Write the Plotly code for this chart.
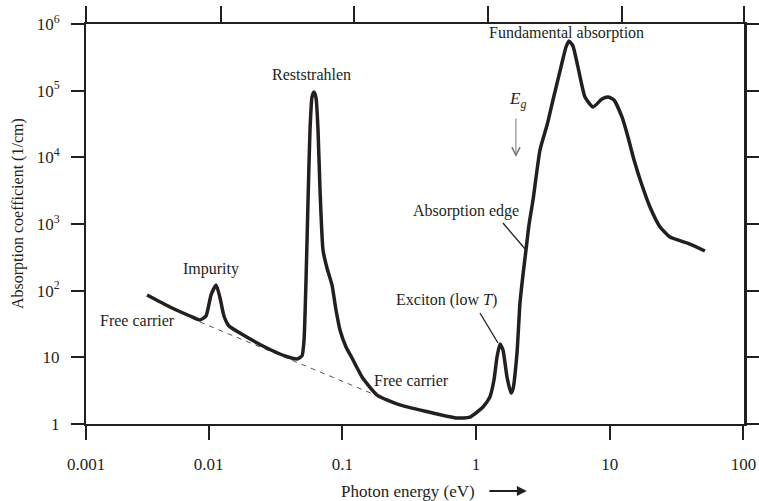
import math
import plotly.graph_objects as go

# Absorption spectrum of a typical semiconductor (schematic)
photon_energy_ev = [
    0.00347, 0.00515, 0.00727, 0.00863, 0.00958, 0.01044, 0.0114, 0.0122, 0.01305, 0.01423,
    0.01875, 0.0264, 0.0373, 0.0459, 0.0500, 0.0518, 0.0536, 0.0555, 0.0574, 0.0594,
    0.0615, 0.0637, 0.0659, 0.0682, 0.0718, 0.0769, 0.0838, 0.0898, 0.0962, 0.1067,
    0.1183, 0.1406, 0.182, 0.270, 0.477, 0.721, 0.902, 1.128, 1.27, 1.363,
    1.436, 1.512, 1.592, 1.705, 1.827, 1.891, 2.026, 2.133, 2.246, 2.365,
    2.49, 2.67, 3.01, 3.40, 3.765, 4.32, 4.71, 4.96, 5.31, 5.79,
    6.53, 7.50, 8.75, 9.70, 10.76, 12.35, 13.69, 15.2, 17.1, 20.0,
    23.8, 28.2, 37.8, 51.5,
]
absorption_per_cm = [
    86, 56.9, 41.7, 36.3, 41.7, 86, 122, 77.6, 41.7, 29.5,
    20.9, 14.3, 10.5, 9.44, 10.5, 18.2, 144, 2290, 25700, 80300,
    95500, 77600, 25700, 3240, 407, 219, 122, 51.3, 25.7, 14.3,
    9.77, 5.07, 2.72, 1.93, 1.46, 1.23, 1.27, 1.80, 2.54, 4.57,
    10.1, 15.8, 12.9, 5.07, 2.92, 3.35, 11.6, 65.3, 172, 407,
    966, 2290, 12880, 30500, 72400, 226000, 452000, 556000, 468000, 226000,
    80300, 56900, 75000, 80300, 72400, 40300, 20200, 9120, 4270, 1800,
    902, 638, 519, 394,
]

# Free-carrier background extrapolated under the impurity and lattice peaks
free_carrier_ev = [0.00863, 0.209]
free_carrier_alpha = [33.9, 2.37]

# Leader lines from labels to features
exciton_leader_ev = [1.071, 1.46]
exciton_leader_alpha = [46.2, 16.4]
edge_leader_ev = [1.592, 2.365]
edge_leader_alpha = [1035, 407]

# Text labels: (text, energy, alpha)
labels = [
    ("Free carrier", 0.00297, 35.1),
    ("Impurity", 0.01045, 211),
    ("Reststrahlen", 0.0584, 1.72e5),
    ("Free carrier", 0.327, 4.42),
    ("Exciton (low <i>T</i>)", 0.607, 72.4),
    ("Absorption edge", 0.841, 1567),
    ("Fundamental absorption", 4.79, 7.33e5),
]
eg_label = ("<i>E</i><sub><i>g</i></sub>", 2.03, 7.24e4)
eg_arrow_ev = 1.99
eg_arrow_alpha = [4.03e4, 1.01e4]

x_tick_vals = [10 ** -2.915, 0.01, 0.1, 1, 10, 100]
x_tick_text = ["0.001", "0.01", "0.1", "1", "10", "100"]
top_tick_vals = [10 ** -3.005, 0.01, 0.1, 1, 10, 10 ** 1.913]
y_tick_vals = [1, 10, 100, 1e3, 1e4, 1e5, 1e6]
y_tick_text = ["1", "10", "10<sup>2</sup>", "10<sup>3</sup>", "10<sup>4</sup>",
               "10<sup>5</sup>", "10<sup>6</sup>"]

INK = "#231f20"
FONT = "Liberation Serif"

fig = go.Figure()

fig.add_trace(go.Scatter(
    x=free_carrier_ev, y=free_carrier_alpha, mode="lines",
    line=dict(color="#555555", width=1, dash="5px,5px"),
    hoverinfo="skip", showlegend=False,
))
fig.add_trace(go.Scatter(
    x=photon_energy_ev, y=absorption_per_cm, mode="lines",
    line=dict(color=INK, width=3.5, shape="spline", smoothing=0.5),
    showlegend=False,
))
for xs, ys in [(exciton_leader_ev, exciton_leader_alpha), (edge_leader_ev, edge_leader_alpha)]:
    fig.add_trace(go.Scatter(
        x=xs, y=ys, mode="lines", line=dict(color=INK, width=1.3),
        hoverinfo="skip", showlegend=False,
    ))

# Mirror axes (top and right) carrying only ticks
fig.add_trace(go.Scatter(x=[], y=[], xaxis="x2", yaxis="y2", showlegend=False))

annotations = []
for text, e, a in labels:
    annotations.append(dict(
        x=math.log10(e), y=math.log10(a), xref="x", yref="y", text=text,
        showarrow=False, font=dict(family=FONT, size=16, color=INK),
    ))
annotations.append(dict(
    x=math.log10(eg_label[1]), y=math.log10(eg_label[2]), xref="x", yref="y",
    text=eg_label[0], showarrow=False, font=dict(family=FONT, size=17, color=INK),
))
annotations.append(dict(
    x=math.log10(eg_arrow_ev), y=math.log10(eg_arrow_alpha[1]), xref="x", yref="y",
    ax=math.log10(eg_arrow_ev), ay=math.log10(eg_arrow_alpha[0]), axref="x", ayref="y",
    text="", showarrow=True, arrowhead=5, arrowsize=1.6, arrowwidth=1, arrowcolor="#777777",
))
# Axis titles
annotations.append(dict(
    x=0.3845, y=-0.1675, xref="paper", yref="paper", xanchor="left", yanchor="middle",
    text="Photon energy (eV)", showarrow=False, font=dict(family=FONT, size=17, color=INK),
))
annotations.append(dict(
    x=0.670, y=-0.1675, xref="paper", yref="paper", ax=-39, ay=0,
    text="", showarrow=True, arrowhead=2, arrowsize=1, arrowwidth=2, arrowcolor=INK,
))
annotations.append(dict(
    x=0, y=0.525, xref="paper", yref="paper", xshift=-68, textangle=-90,
    xanchor="center", yanchor="middle",
    text="Absorption coefficient (1/cm)", showarrow=False,
    font=dict(family=FONT, size=16, color=INK),
))

x_range = [-2.916, 2.004]
top_range = [-3.006, 1.914]
y_range = [0, 6]

fig.update_layout(
    width=759, height=501,
    margin=dict(l=86, r=15, t=24, b=77),
    paper_bgcolor="white", plot_bgcolor="white",
    font=dict(family=FONT, size=17, color=INK),
    annotations=annotations,
    xaxis=dict(
        type="log", range=x_range, tickvals=x_tick_vals, ticktext=x_tick_text,
        ticks="outside", ticklen=14, tickwidth=2, tickcolor=INK,
        showline=True, linewidth=2, linecolor=INK, mirror=False,
        showgrid=False, zeroline=False, ticklabelstandoff=10, automargin=False,
        tickfont=dict(family=FONT, size=17, color=INK),
    ),
    xaxis2=dict(
        type="log", range=top_range, tickvals=top_tick_vals, showticklabels=False,
        overlaying="x", side="top", anchor="y", automargin=False,
        ticks="outside", ticklen=16, tickwidth=2, tickcolor=INK,
        showline=True, linewidth=2, linecolor=INK,
        showgrid=False, zeroline=False,
    ),
    yaxis=dict(
        type="log", range=y_range, tickvals=y_tick_vals, ticktext=y_tick_text,
        ticks="outside", ticklen=13, tickwidth=2, tickcolor=INK,
        showline=True, linewidth=2, linecolor=INK, mirror=False,
        showgrid=False, zeroline=False, ticklabelstandoff=8, automargin=False,
        tickfont=dict(family=FONT, size=17, color=INK),
    ),
    yaxis2=dict(
        type="log", range=y_range, tickvals=y_tick_vals, showticklabels=False,
        overlaying="y", side="right", anchor="x", automargin=False,
        ticks="outside", ticklen=13, tickwidth=2, tickcolor=INK,
        showline=True, linewidth=3, linecolor=INK,
        showgrid=False, zeroline=False,
    ),
)

fig.write_html("out.html")
